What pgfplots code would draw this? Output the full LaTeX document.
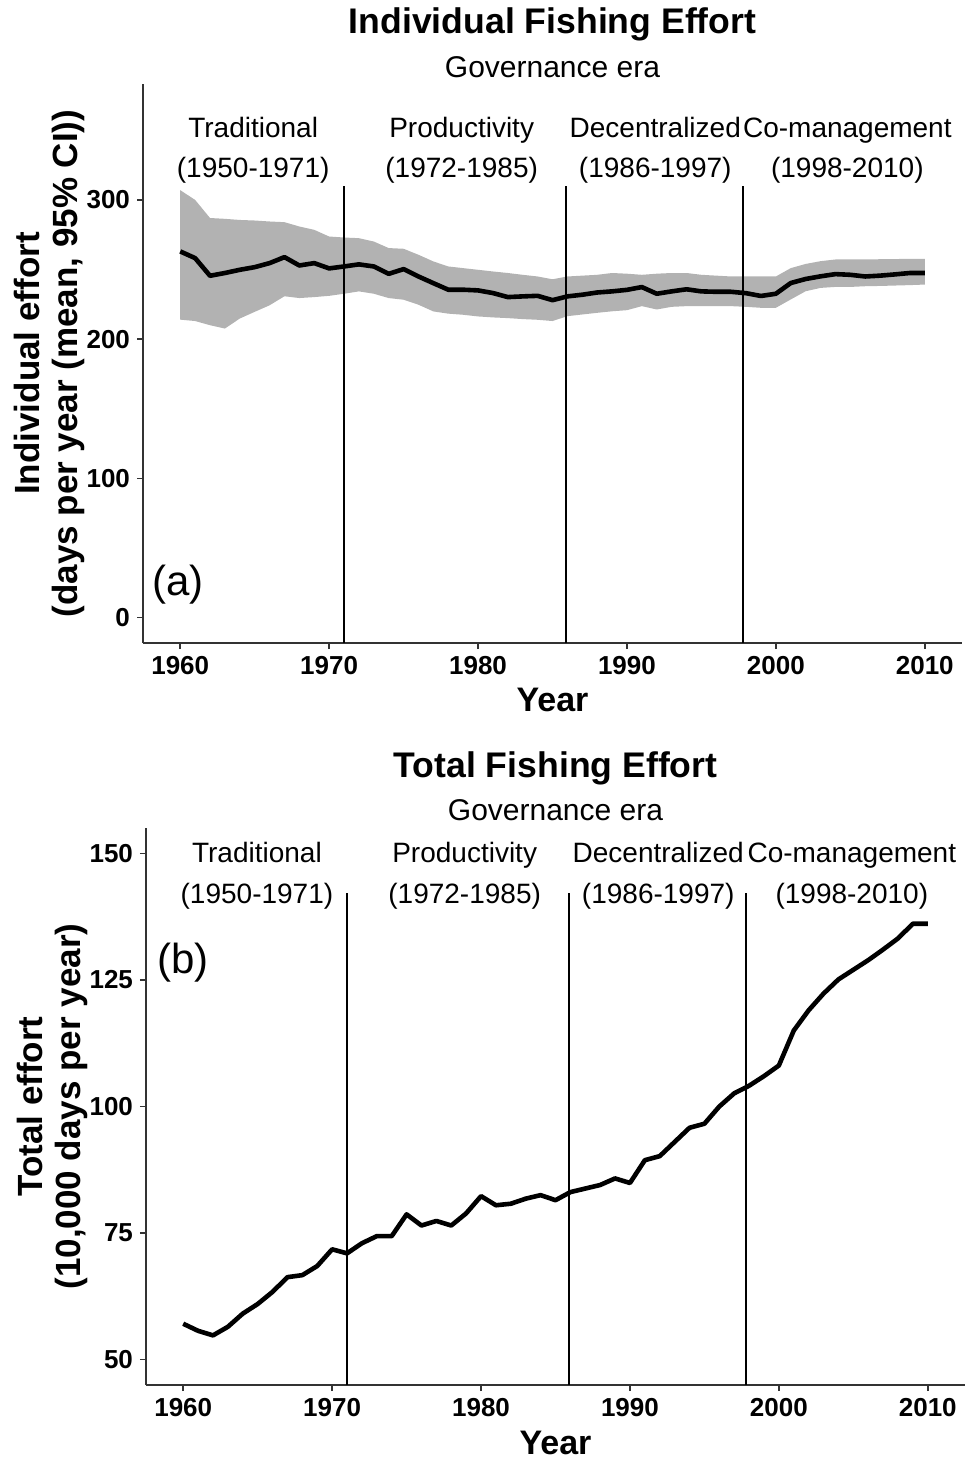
\documentclass[border=0pt]{standalone}
\usepackage{fontspec}
\setmainfont{Liberation Sans}
\usepackage{pgfplots}
\pgfplotsset{compat=1.18}
\usepackage{pgfplotstable}
\usepgfplotslibrary{fillbetween}

\pgfplotstableread{
year mean lo hi
1960 263.0 214.0 307.0
1961 258.2 213.0 300.0
1962 245.5 210.0 287.0
1963 247.5 207.6 286.4
1964 249.8 214.8 285.6
1965 251.7 219.6 285.2
1966 254.6 224.3 284.5
1967 258.9 230.8 284.0
1968 252.9 229.5 280.9
1969 254.6 230.2 278.5
1970 250.8 231.1 273.7
1971 252.2 232.6 273.0
1972 253.7 234.3 272.5
1973 252.2 232.6 270.1
1974 246.9 229.5 265.4
1975 250.3 228.3 264.9
1976 245.0 224.7 260.6
1977 240.2 219.9 255.8
1978 235.5 218.3 252.2
1979 235.5 217.5 251.0
1980 235.0 216.3 249.8
1981 233.1 215.6 248.6
1982 230.2 215.1 247.5
1983 230.7 214.4 246.2
1984 231.1 213.9 245.0
1985 228.0 213.0 243.0
1986 230.7 216.5 245.0
1987 231.9 217.7 245.6
1988 233.5 218.9 246.2
1989 234.3 220.0 247.5
1990 235.4 220.8 247.0
1991 237.4 223.7 246.2
1992 232.6 221.3 247.0
1993 234.3 223.2 247.5
1994 235.8 223.7 247.5
1995 234.3 223.7 246.2
1996 234.0 223.7 245.6
1997 234.0 223.7 245.0
1998 233.0 223.2 245.0
1999 231.0 222.5 245.0
2000 232.6 222.5 245.0
2001 240.3 228.5 251.0
2002 243.2 234.4 254.0
2003 245.1 236.8 256.0
2004 246.7 237.5 257.2
2005 246.2 237.5 257.2
2006 245.0 238.0 257.2
2007 245.6 238.2 257.4
2008 246.5 238.5 257.5
2009 247.5 238.8 257.7
2010 247.5 239.2 257.7
}\indiv

\pgfplotstableread{
year total
1960 57.1
1961 55.7
1962 54.8
1963 56.5
1964 59.1
1965 61.0
1966 63.4
1967 66.3
1968 66.7
1969 68.5
1970 71.8
1971 71.0
1972 73.0
1973 74.4
1974 74.4
1975 78.7
1976 76.5
1977 77.4
1978 76.5
1979 78.9
1980 82.3
1981 80.5
1982 80.8
1983 81.8
1984 82.5
1985 81.5
1986 83.1
1987 83.8
1988 84.5
1989 85.8
1990 84.9
1991 89.4
1992 90.2
1993 93.0
1994 95.8
1995 96.6
1996 100.0
1997 102.6
1998 104.1
1999 106.0
2000 108.1
2001 115.0
2002 119.0
2003 122.3
2004 125.1
2005 127.0
2006 128.9
2007 131.0
2008 133.2
2009 136.1
2010 136.1
}\totaldata

\definecolor{bandgray}{gray}{0.70}

\tikzset{era/.style={font=\fontsize{14}{16}\selectfont, anchor=center, text height=10pt, text depth=0pt, inner ysep=0pt}}

\pgfplotsset{
  myaxis/.style={
    scale only axis,
    width=409.5pt,
    anchor=south west,
    xmin=1957.5, xmax=2012.5,
    axis lines=left,
    axis line style={line width=0.75pt, -, black!80},
    tick style={line width=0.75pt, black!80},
    tick align=outside,
    major tick length=3pt,
    xtick={1960,1970,...,2010},
    /pgf/number format/assume math mode=true,
    /pgf/number format/1000 sep={},
    ticklabel style={font=\fontsize{13}{15}\selectfont\bfseries, black},
    xlabel={Year},
    every axis x label/.style={at={(axis description cs:0.5,0)}, anchor=center, yshift=-28.5pt, font=\fontsize{17}{20}\selectfont\bfseries},
    every axis y label/.style={at={(axis description cs:0,0.5)}, rotate=90, anchor=center, yshift=47pt, align=center, font=\fontsize{17.5}{19}\selectfont\bfseries},
    every axis title/.style={at={(axis description cs:0.5,1)}, anchor=center, yshift=30pt, font=\fontsize{17.8}{20}\selectfont\bfseries},
    clip=false,
  },
}

\begin{document}
\begin{tikzpicture}
% Panel (a)
\begin{axis}[myaxis,
  at={(71.5pt,-321.5pt)},
  height=279.5pt,
  ymin=-18.25, ymax=383.25,
  ytick={0,100,200,300},
  title={Individual Fishing Effort},
  ylabel={Individual effort\\(days per year (mean, 95\% CI))},
]
\addplot[name path=hiA, draw=none, forget plot] table[x=year, y=hi] {\indiv};
\addplot[name path=loA, draw=none, forget plot] table[x=year, y=lo] {\indiv};
\addplot[bandgray, draw=none] fill between[of=hiA and loA];
\addplot[black, line width=0.7pt] coordinates {(1971,-18.25) (1971,310)};
\addplot[black, line width=0.7pt] coordinates {(1985.9,-18.25) (1985.9,310)};
\addplot[black, line width=0.7pt] coordinates {(1997.8,-18.25) (1997.8,310)};
\addplot[black, line width=2.3pt, line join=round] table[x=year, y=mean] {\indiv};
\node[era, font=\fontsize{15}{17}\selectfont] at (axis description cs:0.5,1) [yshift=8pt] {Governance era};
\node[era] at (axis cs:1964.9,351.7) {Traditional};
\node[era] at (axis cs:1964.9,323) {(1950-1971)};
\node[era] at (axis cs:1978.9,351.7) {Productivity};
\node[era] at (axis cs:1978.9,323) {(1972-1985)};
\node[era] at (axis cs:1991.9,351.7) {Decentralized};
\node[era] at (axis cs:1991.9,323) {(1986-1997)};
\node[era] at (axis cs:2004.8,351.7) {Co-management};
\node[era] at (axis cs:2004.8,323) {(1998-2010)};
\node[anchor=center, font=\fontsize{21}{24}\selectfont] at (axis cs:1959.85,23.7) {(a)};
\end{axis}

% Panel (b)
\begin{axis}[myaxis,
  at={(73pt,-692.5pt)},
  height=278.5pt,
  ymin=45, ymax=155,
  ytick={50,75,100,125,150},
  title={Total Fishing Effort},
  ylabel={Total effort\\(10,000 days per year)},
  every axis x label/.append style={yshift=-0.5pt},
]
\addplot[black, line width=0.7pt] coordinates {(1971,45) (1971,142.1)};
\addplot[black, line width=0.7pt] coordinates {(1985.9,45) (1985.9,142.1)};
\addplot[black, line width=0.7pt] coordinates {(1997.8,45) (1997.8,142.1)};
\addplot[black, line width=2.3pt, line join=round] table[x=year, y=total] {\totaldata};
\node[era, font=\fontsize{15}{17}\selectfont] at (axis description cs:0.5,1) [yshift=9pt] {Governance era};
\node[era] at (axis cs:1964.95,150.2) {Traditional};
\node[era] at (axis cs:1964.95,142.1) {(1950-1971)};
\node[era] at (axis cs:1978.9,150.2) {Productivity};
\node[era] at (axis cs:1978.9,142.1) {(1972-1985)};
\node[era] at (axis cs:1991.9,150.2) {Decentralized};
\node[era] at (axis cs:1991.9,142.1) {(1986-1997)};
\node[era] at (axis cs:2004.9,150.2) {Co-management};
\node[era] at (axis cs:2004.9,142.1) {(1998-2010)};
\node[anchor=center, font=\fontsize{21}{24}\selectfont] at (axis cs:1959.97,128.5) {(b)};
\end{axis}
\pgfresetboundingbox
\path[use as bounding box] (0,0) rectangle (486pt,-730pt);
\end{tikzpicture}
\end{document}
